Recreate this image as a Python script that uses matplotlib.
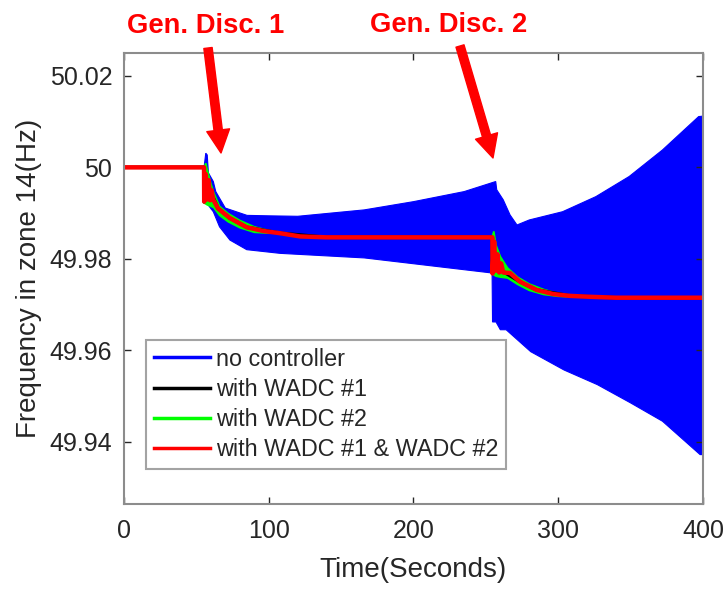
import numpy as np
import matplotlib
matplotlib.use('Agg')
import matplotlib.pyplot as plt
from matplotlib.patches import FancyArrowPatch
from matplotlib.lines import Line2D

plt.rcParams['font.family'] = ['Liberation Sans', 'DejaVu Sans']

# no controller: upper / lower envelope of the oscillation
blue_t_hi = [55.3, 56.5, 57.5, 58.3, 61.7, 63.4, 70, 85, 100, 120, 166, 200, 235, 256.8,
             257.5, 262, 266.7, 271.5, 280, 303, 326, 349, 372, 397, 400]
blue_hi = [50.0, 50.0031, 50.0027, 49.9988, 49.9969, 49.9947, 49.9911, 49.9895, 49.9894, 49.9893,
           49.9907, 49.9925, 49.9947, 49.9969, 49.9951, 49.9929, 49.9896, 49.9874, 49.9885,
           49.9903, 49.9936, 49.9980, 50.0038, 50.0111, 50.0112]
blue_t_lo = [55.3, 57.1, 61.7, 66, 73.2, 84.8, 107.8, 166, 254.3, 254.6, 257, 260, 264, 281,
             304, 327, 350, 372, 398, 400]
blue_lo = [49.9925, 49.9922, 49.9903, 49.9870, 49.9841, 49.9820, 49.9812, 49.9802, 49.9769,
           49.9662, 49.9662, 49.9645, 49.9645, 49.9597, 49.9557, 49.9525, 49.9485, 49.9445,
           49.9372, 49.9372]

# with WADC #1 & WADC #2
red_t = [0, 55.3, 55.4, 56.5, 57.5, 58.5, 59.5, 60.5, 61.7, 65, 73.2, 84.8, 96, 107.8, 121.6,
         140, 254.5, 254.6, 255.7, 256.8, 258, 259.2, 260.5, 262, 266.7, 273.6, 285.1, 296.6,
         308.1, 322, 340, 400]
red_f = [50.0, 50.0, 49.9925, 49.9985, 49.9930, 49.9972, 49.9928, 49.9950, 49.9929, 49.9910,
         49.9889, 49.9869, 49.9861, 49.9856, 49.9849, 49.9847, 49.9847, 49.9768, 49.9838,
         49.9774, 49.9810, 49.9770, 49.9790, 49.9770, 49.9769, 49.9750, 49.9732, 49.9723,
         49.9719, 49.9717, 49.9715, 49.9715]

# with WADC #1 (hidden under red)
black_t = [0, 55.3, 55.4, 57, 60, 65, 73.2, 84.8, 107.8, 140, 254.5, 254.6, 257, 262, 273.6,
           285.1, 308.1, 340, 400]
black_f = [50.0, 50.0, 49.9925, 49.9975, 49.9945, 49.9910, 49.9889, 49.9869, 49.9856, 49.9847,
           49.9847, 49.9768, 49.9800, 49.9772, 49.9750, 49.9732, 49.9719, 49.9715, 49.9715]

# with WADC #2: band around the red curve after each disconnection
green1_t = [55.3, 56.5, 57.5, 60, 62, 66, 72, 80, 90, 100]
green1_hi = [50.0, 50.0009, 49.9995, 49.9965, 49.9945, 49.9915, 49.9899, 49.9884, 49.9870, 49.9862]
green1_lo = [49.9922, 49.9920, 49.9918, 49.9915, 49.9912, 49.9895, 49.9881, 49.9868, 49.9858, 49.9856]
green2_t = [254.5, 255.5, 257, 260, 265, 272, 280, 290, 300, 310]
green2_hi = [49.9849, 49.9860, 49.9830, 49.9805, 49.9780, 49.9760, 49.9745, 49.9733, 49.9724, 49.9720]
green2_lo = [49.9845, 49.9765, 49.9762, 49.9760, 49.9758, 49.9744, 49.9731, 49.9722, 49.9718, 49.9717]

labels = ['no controller', 'with WADC #1', 'with WADC #2', 'with WADC #1 & WADC #2']
colors = ['#0000ff', '#000000', '#00ff00', '#ff0000']
yticks = [49.94, 49.96, 49.98, 50.0, 50.02]
ytick_labels = ['49.94', '49.96', '49.98', '50', '50.02']
xticks = [0, 100, 200, 300, 400]

W, H = 728, 589
fig = plt.figure(figsize=(W / 100, H / 100), dpi=100)
ax = fig.add_axes([124 / W, 1 - 504 / H, 579 / W, 451 / H])

ax.fill(blue_t_hi + blue_t_lo[::-1], blue_hi + blue_lo[::-1], color=colors[0], lw=0.8)
ax.plot(black_t, black_f, color=colors[1], lw=2.5)
for gt, ghi, glo in [(green1_t, green1_hi, green1_lo), (green2_t, green2_hi, green2_lo)]:
    ax.fill(gt + gt[::-1], ghi + glo[::-1], color=colors[2], lw=1.2)
ax.plot(red_t, red_f, color=colors[3], lw=3.2)

ax.set_xlim(0, 400)
ax.set_ylim(49.9264, 50.0250)
ax.set_xticks(xticks)
ax.set_xticklabels([str(x) for x in xticks])
ax.set_yticks(yticks)
ax.set_yticklabels(ytick_labels)

spine_c = '#8c8c8c'
txt_c = '#262626'
for s in ax.spines.values():
    s.set_color(spine_c)
    s.set_linewidth(1.5)
ax.tick_params(direction='in', length=5, width=1, color='#262626', labelcolor=txt_c,
               labelsize=18, top=True, right=True)
ax.tick_params(axis='x', pad=11)
ax.tick_params(axis='y', pad=8.5)
ax.set_xlabel('Time(Seconds)', fontsize=20, color=txt_c, labelpad=10)
ax.set_ylabel('Frequency in zone 14(Hz)', fontsize=20, color=txt_c, labelpad=5.5)

handles = [Line2D([], [], color=c, lw=2.5) for c in colors]
leg = ax.legend(handles, labels, loc='lower left', bbox_to_anchor=(0.038, 0.0776),
                fontsize=16.8, frameon=True, fancybox=False, handlelength=2.4,
                handletextpad=0.25, labelspacing=0.31, borderpad=0.33, borderaxespad=0)
leg.get_frame().set_edgecolor(spine_c)
leg.get_frame().set_linewidth(1.5)
for t in leg.get_texts():
    t.set_color(txt_c)

# annotations for generator disconnections
ann_text = ['Gen. Disc. 1', 'Gen. Disc. 2']
ann_xy = [(206, 33), (449, 32)]
arr_tail = [(208, 48), (460, 46)]
arr_tip = [(221, 153), (493, 158)]
for s, (tx, ty), (ax0, ay0), (ax1, ay1) in zip(ann_text, ann_xy, arr_tail, arr_tip):
    fig.text(tx / W, 1 - ty / H, s, color='#ff0000', fontsize=19.7, fontweight='bold',
             ha='center', va='baseline')
    arr = FancyArrowPatch((ax0 / W, 1 - ay0 / H), (ax1 / W, 1 - ay1 / H),
                          transform=fig.transFigure, color='#ff0000', mutation_scale=1,
                          arrowstyle='simple,head_length=16.5,head_width=16.5,tail_width=6',
                          shrinkA=0, shrinkB=0)
    fig.add_artist(arr)

fig.savefig('out.png', dpi=100, facecolor='white')
